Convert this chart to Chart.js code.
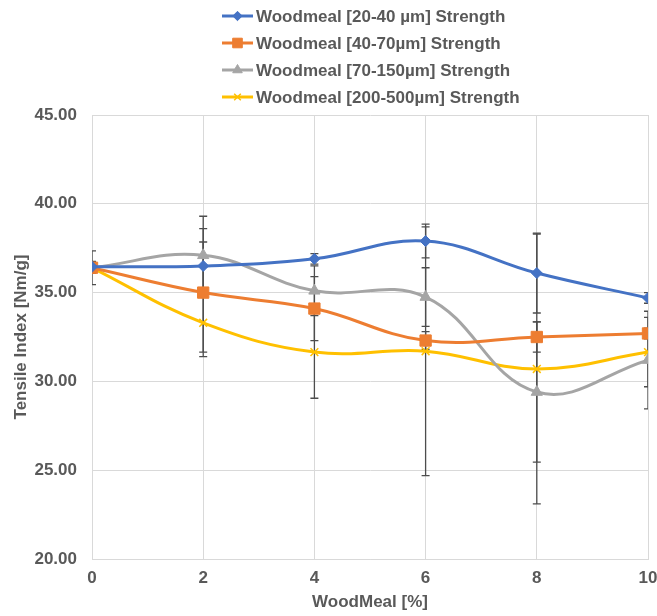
<!DOCTYPE html>
<html>
<head>
<meta charset="utf-8">
<title>Tensile strength vs wood meal</title>
<script src="https://cdn.jsdelivr.net/npm/chart.js@4.4.0/dist/chart.umd.min.js"></script>
<style>
  html, body { margin: 0; padding: 0; background: #fff; }
</style>
</head>
<body>
<canvas id="tensile-chart" width="657" height="616"></canvas>
<script>
// wood meal content on the x axis
const woodMeal = [0, 2, 4, 6, 8, 10];
const yTicks = [20, 25, 30, 35, 40, 45];

const seriesNames = [
  'Woodmeal [20-40 µm] Strength',
  'Woodmeal [40-70µm] Strength',
  'Woodmeal [70-150µm] Strength',
  'Woodmeal [200-500µm] Strength'
];

// mean tensile index per particle size
const strength20to40 = [36.45, 36.5, 36.9, 37.9, 36.1, 34.7];
const strength40to70 = [36.4, 35.0, 34.1, 32.3, 32.5, 32.7];
const strength70to150 = [36.4, 37.1, 35.1, 34.75, 29.4, 31.2];
const strength200to500 = [36.4, 33.3, 31.65, 31.7, 30.7, 31.65];

// standard deviations (drawn as +/- error bars)
const error20to40 = [0.3, 1.35, 0.3, 0.95, 2.25, 0.3];
const error40to70 = [0.3, 3.6, 1.8, 0.5, 0.85, 0.3];
const error70to150 = [0.95, 2.2, 1.4, 1.65, 3.95, 2.75];
const error200to500 = [0.3, 1.65, 2.6, 7.0, 7.6, 1.95];

const textColor = '#595959';
const gridColor = '#d9d9d9';
const fontFamily = '"Liberation Sans", Arial, sans-serif';

function points(values) {
  return values.map((v, i) => ({ x: woodMeal[i], y: v }));
}

function makeDataset(label, values, errors, color, style, radius, markerBorder) {
  return {
    label: label,
    data: points(values),
    errors: errors,
    borderColor: color,
    backgroundColor: color,
    borderWidth: 3,
    tension: 0.4,
    pointStyle: style,
    pointRadius: radius,
    pointHoverRadius: radius,
    pointBorderWidth: markerBorder,
    pointBackgroundColor: color,
    pointBorderColor: color
  };
}

// vertical error bars with caps, clipped to the plot area
const errorBars = {
  id: 'errorBars',
  beforeDatasetsDraw(chart) {
    const ctx = chart.ctx;
    const xs = chart.scales.x;
    const ys = chart.scales.y;
    ctx.save();
    Chart.helpers.clipArea(ctx, chart.chartArea);
    ctx.strokeStyle = '#4d4d4d';
    ctx.lineWidth = 1.3;
    chart.data.datasets.forEach(ds => {
      ds.data.forEach((p, i) => {
        const e = ds.errors[i];
        const x = xs.getPixelForValue(p.x);
        const top = ys.getPixelForValue(p.y + e);
        const bot = ys.getPixelForValue(p.y - e);
        ctx.beginPath();
        ctx.moveTo(x, top);
        ctx.lineTo(x, bot);
        ctx.moveTo(x - 4, top);
        ctx.lineTo(x + 4, top);
        ctx.moveTo(x - 4, bot);
        ctx.lineTo(x + 4, bot);
        ctx.stroke();
      });
    });
    Chart.helpers.unclipArea(ctx);
    ctx.restore();
  }
};

// one legend entry per row, left aligned
const stackedLegend = {
  id: 'stackedLegend',
  afterDraw(chart) {
    const ctx = chart.ctx;
    ctx.save();
    ctx.font = 'bold 17px ' + fontFamily;
    ctx.textBaseline = 'middle';
    ctx.textAlign = 'left';
    chart.data.datasets.forEach((ds, i) => {
      const y = 16 + i * 27;
      ctx.strokeStyle = ds.borderColor;
      ctx.lineWidth = 3;
      ctx.beginPath();
      ctx.moveTo(222, y);
      ctx.lineTo(253, y);
      ctx.stroke();
      ctx.fillStyle = ds.borderColor;
      ctx.lineWidth = ds.pointBorderWidth;
      Chart.helpers.drawPoint(ctx, {
        pointStyle: ds.pointStyle,
        radius: ds.pointRadius * 0.85,
        borderWidth: ds.pointBorderWidth,
        rotation: 0
      }, 237.5, y);
      ctx.fillStyle = textColor;
      ctx.fillText(ds.label, 256, y + 1);
    });
    ctx.restore();
  }
};

new Chart(document.getElementById('tensile-chart'), {
  type: 'line',
  data: {
    datasets: [
      makeDataset(seriesNames[0], strength20to40, error20to40, '#4472c4', 'rectRot', 5.5, 1),
      makeDataset(seriesNames[1], strength40to70, error40to70, '#ed7d31', 'rect', 8, 1),
      makeDataset(seriesNames[2], strength70to150, error70to150, '#a5a5a5', 'triangle', 6.5, 1),
      makeDataset(seriesNames[3], strength200to500, error200to500, '#ffc000', 'crossRot', 5.5, 1.5)
    ]
  },
  options: {
    responsive: false,
    devicePixelRatio: 1,
    animation: false,
    layout: { padding: { top: 115, right: 7, bottom: 0, left: 0 } },
    plugins: {
      legend: { display: false },
      tooltip: { enabled: false }
    },
    scales: {
      x: {
        type: 'linear',
        min: 0,
        max: 10,
        afterFit(scale) {
          scale.height = 57;
          scale.paddingLeft = 0;
          scale.paddingRight = 0;
        },
        ticks: {
          stepSize: 2,
          padding: 9,
          color: textColor,
          font: { family: fontFamily, size: 17, weight: 'bold' }
        },
        grid: { color: gridColor, drawTicks: false },
        border: { color: gridColor },
        title: {
          display: true,
          text: 'WoodMeal [%]',
          color: textColor,
          padding: { top: 4, bottom: 3 },
          font: { family: fontFamily, size: 17, weight: 'bold' }
        }
      },
      y: {
        min: yTicks[0],
        max: yTicks[yTicks.length - 1],
        afterFit(scale) {
          scale.width = 92;
          scale.paddingTop = 0;
          scale.paddingBottom = 0;
        },
        afterBuildTicks(scale) {
          scale.ticks = yTicks.map(v => ({ value: v }));
        },
        ticks: {
          padding: 15,
          color: textColor,
          font: { family: fontFamily, size: 17, weight: 'bold' },
          callback: v => v.toFixed(2)
        },
        grid: { color: gridColor, drawTicks: false },
        border: { color: gridColor },
        title: {
          display: true,
          text: 'Tensile Index [Nm/g]',
          color: textColor,
          padding: { top: 11, bottom: 0 },
          font: { family: fontFamily, size: 17, weight: 'bold' }
        }
      }
    }
  },
  plugins: [errorBars, stackedLegend]
});
</script>
</body>
</html>
